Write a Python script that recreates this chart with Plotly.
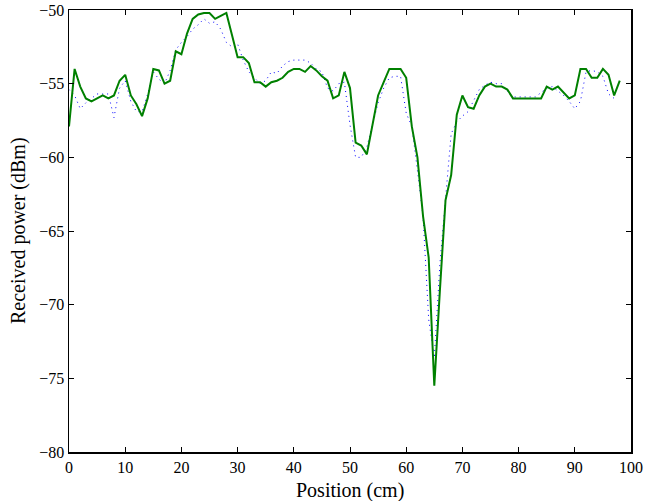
import plotly.graph_objects as go

position_green = list(range(0, 99))
power_green = [
    -57.9, -54.0, -55.2, -56.0, -56.2, -56.0, -55.8, -56.0, -55.8, -54.8,
    -54.4, -55.8, -56.4, -57.2, -56.0, -54.0, -54.1, -55.0, -54.8, -52.8,
    -53.0, -51.6, -50.6, -50.3, -50.2, -50.2, -50.6, -50.4, -50.2, -51.7,
    -53.2, -53.2, -53.6, -54.9, -54.9, -55.2, -54.9, -54.8, -54.6, -54.2,
    -54.0, -54.0, -54.2, -53.8, -54.1, -54.5, -54.8, -56.0, -55.8, -54.2,
    -55.3, -59.0, -59.2, -59.8, -57.9, -55.8, -54.9, -54.0, -54.0, -54.0,
    -54.6, -57.9, -60.0, -64.0, -66.8, -75.5, -69.0, -62.9, -61.2, -57.1,
    -55.8, -56.6, -56.7, -55.8, -55.2, -55.0, -55.2, -55.2, -55.4, -56.0,
    -56.0, -56.0, -56.0, -56.0, -56.0, -55.2, -55.4, -55.2, -55.6, -56.0,
    -55.8, -54.0, -54.0, -54.6, -54.6, -54.0, -54.4, -55.8, -54.8,
]

position_blue = list(range(0, 98))
power_blue = [
    -55.4, -55.8, -56.7, -56.3, -56.0, -55.7, -55.7, -55.7, -57.3, -55.3,
    -54.8, -56.2, -56.9, -56.9, -55.7, -54.2, -54.7, -55.0, -54.1, -52.7,
    -52.2, -51.8, -51.3, -51.0, -50.6, -50.9, -50.8, -51.3, -52.2, -52.5,
    -52.3, -53.4, -54.2, -54.6, -55.0, -54.8, -54.2, -54.3, -53.8, -53.5,
    -53.4, -53.4, -53.4, -53.6, -54.0, -54.2, -55.3, -55.5, -55.0, -54.9,
    -57.8, -60.0, -60.0, -59.3, -57.7, -56.3, -55.3, -54.6, -54.5, -54.5,
    -57.0, -57.9, -60.9, -64.0, -71.0, -73.6, -67.2, -62.7, -58.4, -57.6,
    -57.2, -56.9, -56.1, -55.4, -55.1, -54.9, -55.0, -55.0, -55.5, -55.9,
    -55.9, -55.9, -55.9, -55.9, -55.6, -55.3, -55.2, -55.5, -55.8, -56.2,
    -56.7, -56.2, -54.2, -54.1, -54.2, -54.5, -55.7, -56.0,
]

x_ticks = list(range(0, 101, 10))
y_ticks = list(range(-80, -49, 5))

fig = go.Figure()
fig.add_trace(go.Scatter(
    x=position_blue, y=power_blue, mode="lines",
    line=dict(color="rgb(0,0,255)", width=1, dash="1px,4px"),
    showlegend=False, hoverinfo="skip",
))
fig.add_trace(go.Scatter(
    x=position_green, y=power_green, mode="lines",
    line=dict(color="rgb(0,128,0)", width=2),
    showlegend=False, hoverinfo="skip",
))

axis_common = dict(
    showline=True, linecolor="black", linewidth=1.5, mirror="ticks",
    ticks="inside", ticklen=5, tickwidth=1, tickcolor="black",
    showgrid=False, zeroline=False, automargin=False,
    tickfont=dict(family="Liberation Serif", size=16, color="black"),
)

fig.update_layout(
    width=645, height=501,
    margin=dict(l=69, r=14, t=10, b=49),
    paper_bgcolor="white", plot_bgcolor="white",
    font=dict(family="Liberation Serif", size=16, color="black"),
    xaxis=dict(range=[0, 100], tickvals=x_ticks, ticktext=[str(v) for v in x_ticks],
               **axis_common),
    yaxis=dict(range=[-80, -50], tickvals=y_ticks,
               ticktext=[str(v).replace("-", "\u2212") for v in y_ticks],
               **axis_common),
    annotations=[
        dict(text="Position (cm)", xref="paper", yref="paper", x=0.5, y=-0.086,
             xanchor="center", yanchor="middle", showarrow=False,
             font=dict(family="Liberation Serif", size=20, color="black")),
        dict(text="Received power (dBm)", xref="paper", yref="paper", x=-0.0907, y=0.5,
             xanchor="center", yanchor="middle", textangle=-90, showarrow=False,
             font=dict(family="Liberation Serif", size=20, color="black")),
    ],
)

fig.write_html("out.html",
               config={"displayModeBar": False, "staticPlot": True},
               post_script="document.body.style.margin='0';document.body.style.overflow='hidden';")
